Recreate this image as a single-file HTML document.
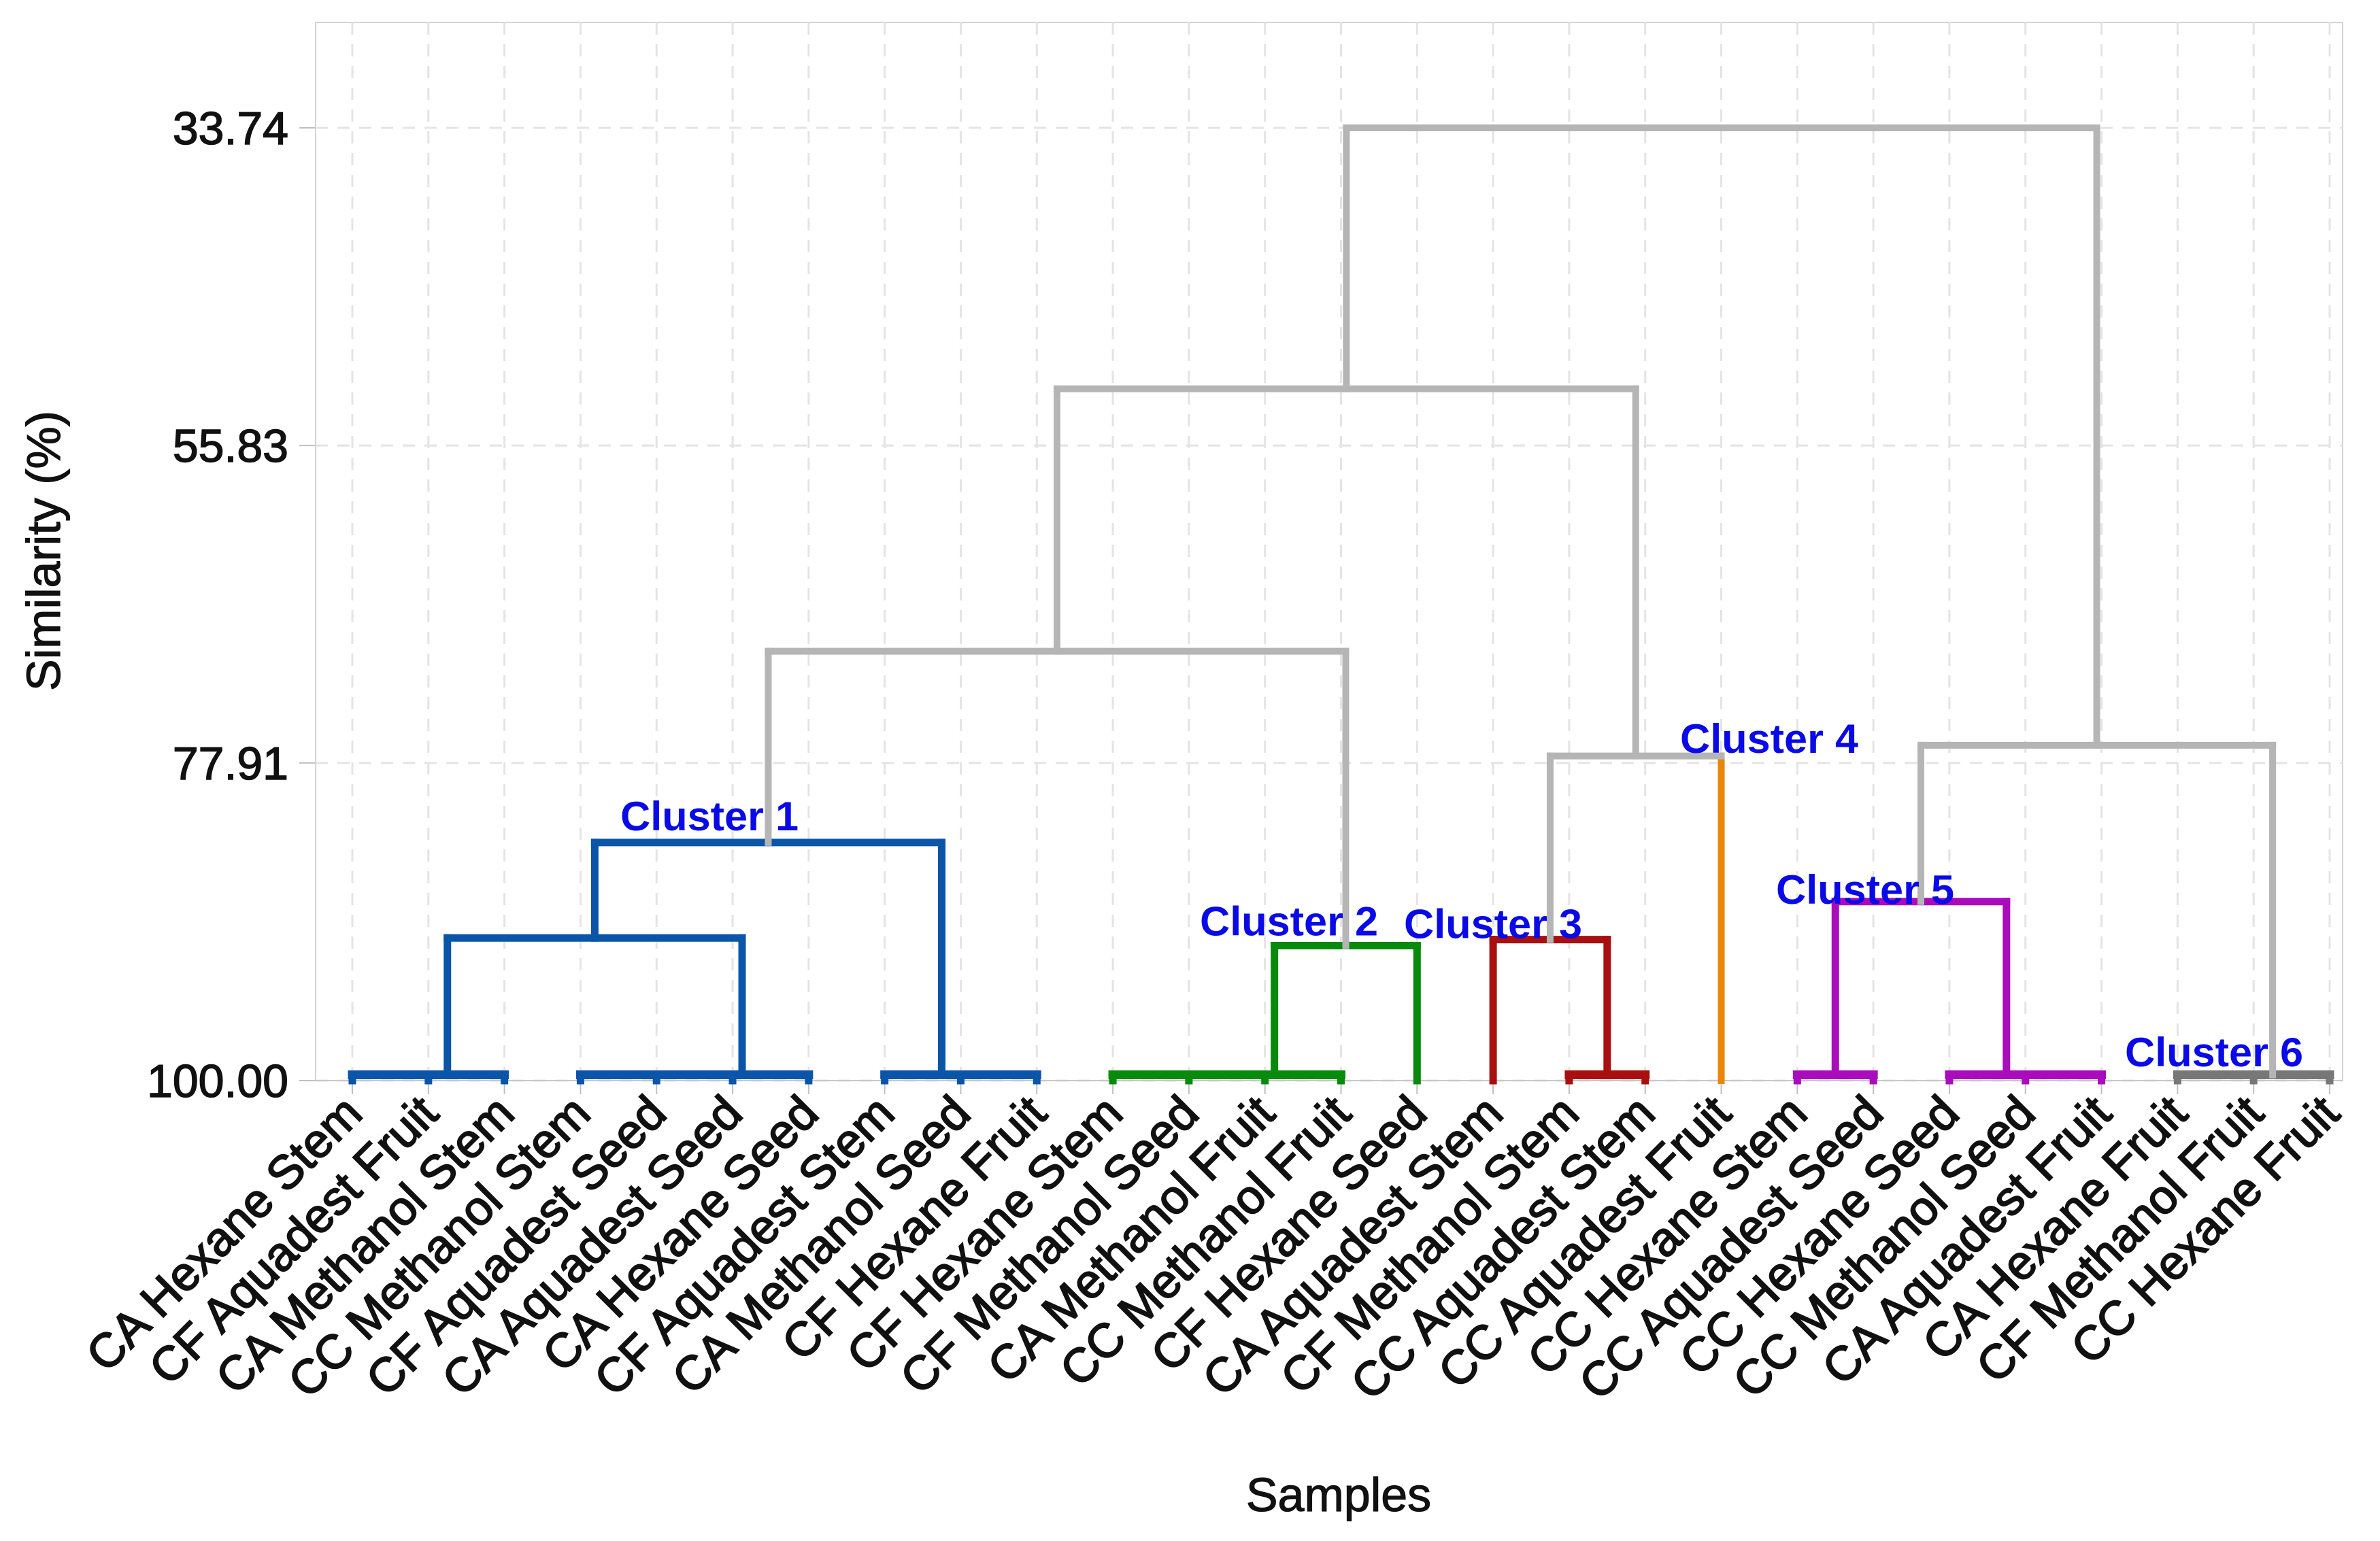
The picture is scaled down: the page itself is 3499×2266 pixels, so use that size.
<!DOCTYPE html>
<html><head><meta charset="utf-8"><style>
html,body{margin:0;padding:0;background:#fff}
svg{display:block}
</style></head><body>
<svg id="chart" width="3499" height="2266" viewBox="0 0 3499 2266" xmlns="http://www.w3.org/2000/svg" font-family="'Liberation Sans', sans-serif"></svg>
<script>
const leafLabels = ["CA Hexane Stem","CF Aquadest Fruit","CA Methanol Stem","CC Methanol Stem","CF Aquadest Seed","CA Aquadest Seed","CA Hexane Seed","CF Aquadest Stem","CA Methanol Seed","CF Hexane Fruit","CF Hexane Stem","CF Methanol Seed","CA Methanol Fruit","CC Methanol Fruit","CF Hexane Seed","CA Aquadest Stem","CF Methanol Stem","CC Aquadest Stem","CC Aquadest Fruit","CC Hexane Stem","CC Aquadest Seed","CC Hexane Seed","CC Methanol Seed","CA Aquadest Fruit","CA Hexane Fruit","CF Methanol Fruit","CC Hexane Fruit"];
const leafCluster = [1,1,1,1,1,1,1,1,1,1,2,2,2,2,2,3,3,3,4,5,5,5,5,5,6,6,6];
// merges: children are leaf indices (numbers) or "n#" = earlier merge
const mergeA = [0,"n0",3,"n2","n3",8,7,"n1","n7",10,"n9","n10","n11","n8",16,15,"n15","n13",19,22,21,"n18",24,"n22","n21","n17"];
const mergeB = [1,2,4,5,6,9,"n5","n4","n6",11,12,13,14,"n12",17,"n14",18,"n16",20,23,"n19","n20",25,26,"n23","n24"];
const mergeH = [99.6,99.6,99.6,99.6,99.6,99.6,99.6,90.08,83.44,99.6,99.6,99.6,90.61,70.14,99.6,90.19,77.42,51.89,99.6,99.6,99.6,87.55,99.6,99.6,76.68,33.74];
const yTicks = [33.74,55.83,77.91,100.00];
const clusterNames = ["Cluster 1","Cluster 2","Cluster 3","Cluster 4","Cluster 5","Cluster 6"];
const clusterLabelX = [1043,1895,2195,2601,2742,3255];
const clusterLabelSim = [82.6,89.9,90.1,77.2,87.7,99.0];

const svg = document.getElementById('chart');
const NS = "http://www.w3.org/2000/svg";
const PL=464, PR=3444, PT=33, PB=1589;
const yTop=188, yBot=1589, simTop=33.74, simBot=100;
function Y(s){return yBot - (simBot - s)/(simBot-simTop)*(yBot-yTop);}
function X(i){return 518 + i*(3425-518)/(leafLabels.length-1);}
function mk(tag, attrs, parent){const e=document.createElementNS(NS,tag);for(const k in attrs)e.setAttribute(k,attrs[k]);(parent||svg).appendChild(e);return e;}

const frame = mk('rect',{x:PL,y:PT,width:PR-PL,height:PB-PT,fill:'none',stroke:'#d4d4d4','stroke-width':2});


const grid = mk('g',{stroke:'#e4e4e4','stroke-width':3,'stroke-dasharray':'18 14'});


leafLabels.forEach((l,i)=>{const g=mk('line',{x1:X(i),x2:X(i),y1:PT,y2:PB},grid);});
yTicks.forEach(t=>{const g=mk('line',{x1:PL,x2:PR,y1:Y(t),y2:Y(t)},grid);});
const ax = mk('line',{x1:PL,x2:PR,y1:PB,y2:PB,stroke:'#c8c8c8','stroke-width':2});


yTicks.forEach(t=>{
  const tk=mk('line',{x1:440,x2:PL,y1:Y(t),y2:Y(t),stroke:'#c0c0c0','stroke-width':2});
  
  
  const tx=mk('text',{x:424,y:Y(t)+24,'text-anchor':'end','font-size':68,fill:'#111',stroke:'#111','stroke-width':1.5});
  tx.textContent=t.toFixed(2);
  
  
});
leafLabels.forEach((l,i)=>{
  const tk=mk('line',{x1:X(i),x2:X(i),y1:PB,y2:PB+20,stroke:'#c0c0c0','stroke-width':2});
  
  
  const tx=mk('text',{x:0,y:0,'text-anchor':'end','font-size':70,fill:'#111',stroke:'#111','stroke-width':2,transform:`translate(${X(i)+18},${PB+52}) rotate(-45)`});
  tx.textContent=l;
  
  
});
const yt=mk('text',{x:0,y:0,'text-anchor':'middle','font-size':70,fill:'#111',stroke:'#111','stroke-width':1.2,transform:'translate(88,810) rotate(-90)'});
yt.textContent='Similarity (%)';


const xt=mk('text',{x:1968,y:2222,'text-anchor':'middle','font-size':70,fill:'#111',stroke:'#111','stroke-width':1.2});
xt.textContent='Samples';



const colors={1:'#0a55a8',2:'#088a0c',3:'#a80f0f',4:'#e8870a',5:'#a90dbb',6:'#777777'};
const GRAY='#b5b5b5';
const nodes=[];
function getNode(c){
  if(typeof c==='number') return {x:X(c),h:100,cl:leafCluster[c],leaf:true};
  return nodes[parseInt(c.slice(1))];
}
const links=mk('g',{fill:'none','stroke-linecap':'square'});


for(let k=0;k<mergeH.length;k++){
  const a=getNode(mergeA[k]);
  const b=getNode(mergeB[k]);
  const h=mergeH[k];
  const cl=(a.cl&&a.cl===b.cl)?a.cl:0;
  const col=cl?colors[cl]:GRAY;
  const y=Y(h);
  const w=h>99?13:(cl?11:10);
  const colA=cl?col:(a.leaf?colors[a.cl]:GRAY);
  const colB=cl?col:(b.leaf?colors[b.cl]:GRAY);
  const va=mk('line',{x1:a.x,x2:a.x,y1:Y(a.h),y2:y,stroke:colA,'stroke-width':cl?11:10},links);
  
  
  const vb=mk('line',{x1:b.x,x2:b.x,y1:Y(b.h),y2:y,stroke:colB,'stroke-width':cl?11:10},links);
  
  
  const hz=mk('line',{x1:a.x,x2:b.x,y1:y,y2:y,stroke:col,'stroke-width':w},links);
  
  
  nodes.push({x:(a.x+b.x)/2,h:h,cl:cl});
}
clusterNames.forEach((n,i)=>{
  const t=mk('text',{x:clusterLabelX[i],y:Y(clusterLabelSim[i]),'text-anchor':'middle','font-size':60,'font-weight':'bold',fill:'#0a0ae6',textLength:262,lengthAdjust:'spacingAndGlyphs'});
  t.textContent=n;
  
  
});
</script>
</body></html>
